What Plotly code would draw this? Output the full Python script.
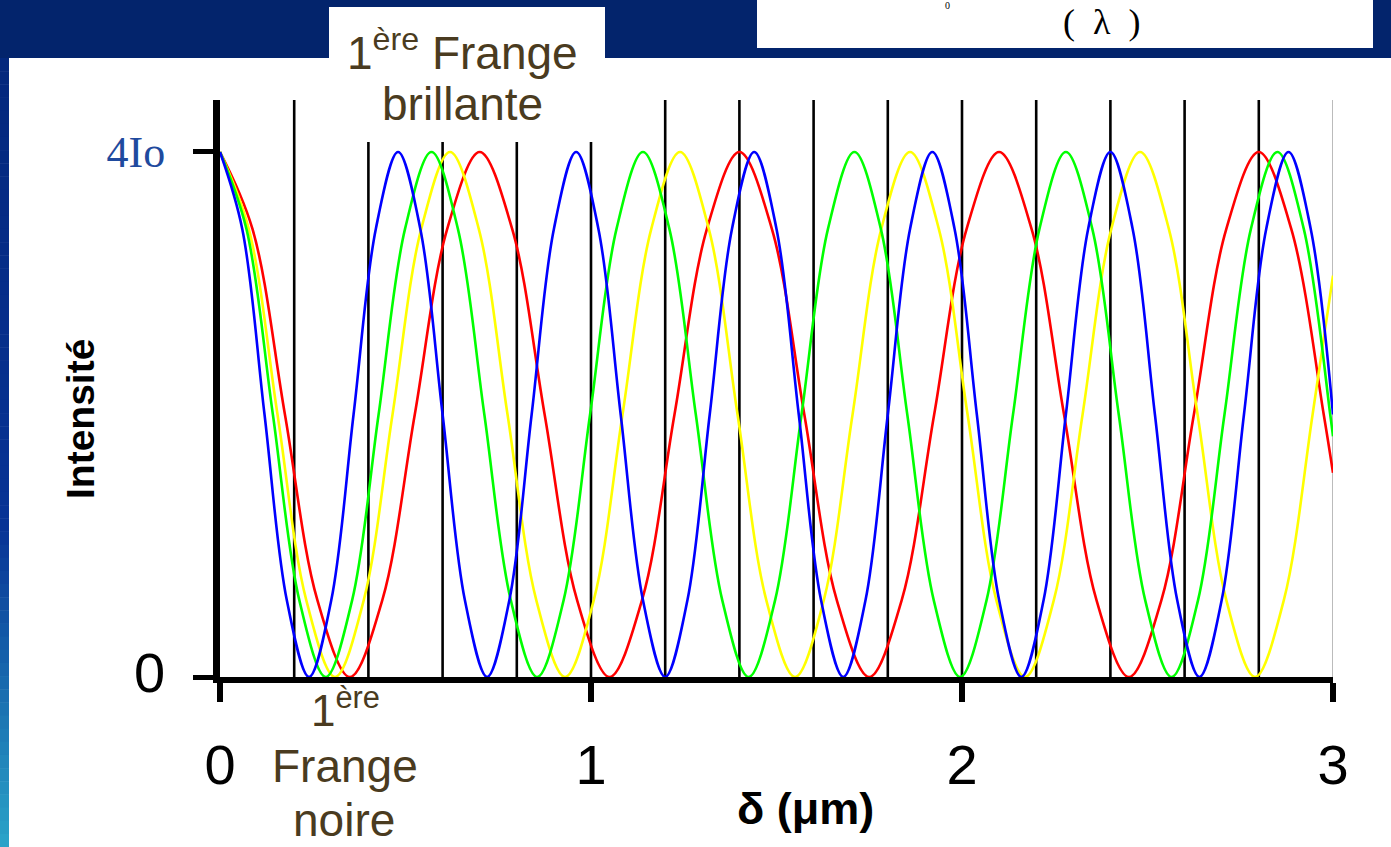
import plotly.graph_objects as go

W, H = 1391, 847

# ---------------- data ----------------
# intensity values (units of Io) read at eighth-period steps of each colour
blue_delta = [0.00, 0.06, 0.12, 0.18, 0.24, 0.30, 0.36, 0.42, 0.48, 0.54, 0.60, 0.66,
              0.72, 0.78, 0.84, 0.90, 0.96, 1.02, 1.08, 1.14, 1.20, 1.26, 1.32, 1.38,
              1.44, 1.50, 1.56, 1.62, 1.68, 1.74, 1.80, 1.86, 1.92, 1.98, 2.04, 2.10,
              2.16, 2.22, 2.28, 2.34, 2.40, 2.46, 2.52, 2.58, 2.64, 2.70, 2.76, 2.82,
              2.88, 2.94, 3.00]
blue_I = [4, 3.414, 2, 0.586, 0, 0.586, 2, 3.414,
          4, 3.414, 2, 0.586, 0, 0.586, 2, 3.414,
          4, 3.414, 2, 0.586, 0, 0.586, 2, 3.414,
          4, 3.414, 2, 0.586, 0, 0.586, 2, 3.414,
          4, 3.414, 2, 0.586, 0, 0.586, 2, 3.414,
          4, 3.414, 2, 0.586, 0, 0.586, 2, 3.414,
          4, 3.414, 2]

green_delta = [0, 0.07125, 0.1425, 0.21375, 0.285, 0.35625, 0.4275, 0.49875,
               0.57, 0.64125, 0.7125, 0.78375, 0.855, 0.92625, 0.9975, 1.06875,
               1.14, 1.21125, 1.2825, 1.35375, 1.425, 1.49625, 1.5675, 1.63875,
               1.71, 1.78125, 1.8525, 1.92375, 1.995, 2.06625, 2.1375, 2.20875,
               2.28, 2.35125, 2.4225, 2.49375, 2.565, 2.63625, 2.7075, 2.77875,
               2.85, 2.92125, 2.9925, 3.0]
green_I = [4, 3.414, 2, 0.586, 0, 0.586, 2, 3.414,
           4, 3.414, 2, 0.586, 0, 0.586, 2, 3.414,
           4, 3.414, 2, 0.586, 0, 0.586, 2, 3.414,
           4, 3.414, 2, 0.586, 0, 0.586, 2, 3.414,
           4, 3.414, 2, 0.586, 0, 0.586, 2, 3.414,
           4, 3.414, 2, 1.834]

yellow_delta = [0, 0.0775, 0.155, 0.2325, 0.31, 0.3875, 0.465, 0.5425,
                0.62, 0.6975, 0.775, 0.8525, 0.93, 1.0075, 1.085, 1.1625,
                1.24, 1.3175, 1.395, 1.4725, 1.55, 1.6275, 1.705, 1.7825,
                1.86, 1.9375, 2.015, 2.0925, 2.17, 2.2475, 2.325, 2.4025,
                2.48, 2.5575, 2.635, 2.7125, 2.79, 2.8675, 2.945, 3.0]
yellow_I = [4, 3.414, 2, 0.586, 0, 0.586, 2, 3.414,
            4, 3.414, 2, 0.586, 0, 0.586, 2, 3.414,
            4, 3.414, 2, 0.586, 0, 0.586, 2, 3.414,
            4, 3.414, 2, 0.586, 0, 0.586, 2, 3.414,
            4, 3.414, 2, 0.586, 0, 0.586, 2, 3.058]

red_delta = [0, 0.0875, 0.175, 0.2625, 0.35, 0.4375, 0.525, 0.6125,
             0.70, 0.7875, 0.875, 0.9625, 1.05, 1.1375, 1.225, 1.3125,
             1.40, 1.4875, 1.575, 1.6625, 1.75, 1.8375, 1.925, 2.0125,
             2.10, 2.1875, 2.275, 2.3625, 2.45, 2.5375, 2.625, 2.7125,
             2.80, 2.8875, 2.975, 3.0]
red_I = [4, 3.414, 2, 0.586, 0, 0.586, 2, 3.414,
         4, 3.414, 2, 0.586, 0, 0.586, 2, 3.414,
         4, 3.414, 2, 0.586, 0, 0.586, 2, 3.414,
         4, 3.414, 2, 0.586, 0, 0.586, 2, 3.414,
         4, 3.414, 2, 1.556]

series_names = ["rouge", "jaune", "vert", "bleu"]
series_colors = ["#FF0000", "#FFFF00", "#00FF00", "#0000FF"]

x_tick_vals = [0, 1, 2, 3]
x_tick_text = ["0", "1", "2", "3"]
y_tick_vals = [0, 4]
y_tick_text = ['<span style="font-family:Liberation Sans;font-size:56px;color:#000000">0</span>', "4Io"]
grid_positions = [0.2, 0.4, 0.6, 0.8, 1.0, 1.2, 1.4, 1.6, 1.8, 2.0, 2.2, 2.4, 2.6, 2.8]
edge_position = [3.0]

# ---------------- figure ----------------
def PX(x):
    return x / W

def PY(y):
    return 1 - y / H

fig = go.Figure()
xs = [red_delta, yellow_delta, green_delta, blue_delta]
ys = [red_I, yellow_I, green_I, blue_I]
for name, col, x, y in zip(series_names, series_colors, xs, ys):
    fig.add_trace(go.Scatter(x=x, y=y, mode="lines", name=name,
                             line=dict(color=col, width=2.6, shape="spline", smoothing=1),
                             hoverinfo="skip"))

Y_TOP = 4.396
shapes = []
# navy top band
shapes.append(dict(type="rect", xref="paper", yref="paper", x0=0, x1=1, y0=PY(58), y1=1,
                   fillcolor="#03246C", line=dict(width=0), layer="below"))
# left gradient stripe
n = 60
c_top = (4, 40, 125)
c_mid = (8, 52, 150)
c_bot = (42, 162, 200)
for i in range(n):
    t = i / (n - 1)
    if t < 0.6:
        u = t / 0.6
        c = [c_top[k] + (c_mid[k] - c_top[k]) * u for k in range(3)]
    else:
        u = (t - 0.6) / 0.4
        c = [c_mid[k] + (c_bot[k] - c_mid[k]) * u for k in range(3)]
    y0 = 58 + (H - 58) * i / n
    y1 = 58 + (H - 58) * (i + 1) / n
    shapes.append(dict(type="rect", xref="paper", yref="paper", x0=0, x1=PX(9),
                       y0=PY(y1 + 0.5), y1=PY(y0),
                       fillcolor="rgb(%d,%d,%d)" % tuple(int(v) for v in c),
                       line=dict(width=0), layer="below"))
# vertical grid lines
for g in grid_positions:
    shapes.append(dict(type="line", xref="x", yref="y", x0=g, x1=g, y0=0, y1=Y_TOP,
                       line=dict(color="#000000", width=2.6), layer="below"))
for g in edge_position:
    shapes.append(dict(type="line", xref="x", yref="y", x0=g, x1=g, y0=0, y1=Y_TOP,
                       line=dict(color="#BBBBBB", width=2), layer="below"))
# formula box (top right)
shapes.append(dict(type="rect", xref="paper", yref="paper", x0=PX(757), x1=PX(1373),
                   y0=PY(48), y1=1.0, fillcolor="#FFFFFF", line=dict(width=0), layer="above"))
# label box "1ère Frange brillante"
shapes.append(dict(type="rect", xref="paper", yref="paper", x0=PX(329), x1=PX(605),
                   y0=PY(142), y1=PY(7), fillcolor="#FFFFFF", line=dict(width=0), layer="above"))

brown = "#4A3B20"
ann = []
def A(text, x, y, size, color="#000000", family="Liberation Sans, Arial", **kw):
    d = dict(text=text, x=PX(x), y=PY(y), xref="paper", yref="paper", showarrow=False,
             font=dict(size=size, color=color, family=family), xanchor="center", yanchor="middle")
    d.update(kw)
    ann.append(d)

A("1<sup>ère</sup> Frange", 462, 50, 46, brown)
A("brillante", 462, 104, 46, brown)
A("1<sup>ère</sup>", 345, 707, 44, brown)
A("Frange", 345, 766, 46, brown)
A("noire", 344, 820, 46, brown)
A("<b>Intensité</b>", 80, 419, 39, textangle=-90)
A("<b>δ (μm)</b>", 806, 808, 45)
A("(  λ  )", 1101, 22, 36, family="Liberation Serif, Times New Roman")
A("0", 948, 6, 10, family="Liberation Serif, Times New Roman")

fig.update_layout(
    width=W, height=H,
    margin=dict(l=0, r=0, t=0, b=0, pad=0, autoexpand=False),
    paper_bgcolor="#FFFFFF", plot_bgcolor="rgba(0,0,0,0)",
    showlegend=False,
    shapes=shapes, annotations=ann,
    xaxis=dict(domain=[PX(220), PX(1333)], range=[0, 3], showgrid=False, zeroline=False,
               automargin=False,
               showline=True, linecolor="#000000", linewidth=6,
               ticks="outside", tickvals=x_tick_vals, ticktext=x_tick_text,
               ticklen=19, tickwidth=6, tickcolor="#000000",
               tickfont=dict(family="Liberation Sans, Arial", size=56, color="#000000"),
               ticklabelstandoff=15, fixedrange=True),
    yaxis=dict(domain=[PY(677), PY(100)], range=[0, Y_TOP], showgrid=False, zeroline=False,
               automargin=False,
               showline=True, linecolor="#000000", linewidth=7,
               ticks="outside", tickvals=y_tick_vals, ticktext=y_tick_text,
               ticklen=20, tickwidth=5, tickcolor="#000000",
               tickfont=dict(family="Liberation Serif, Times New Roman", size=44, color="#1F4A9E"),
               ticklabelstandoff=19, fixedrange=True),
)

fig.write_html("out.html", config={"displayModeBar": False},
               post_script="document.body.style.margin='0';document.body.style.overflow='hidden';")
